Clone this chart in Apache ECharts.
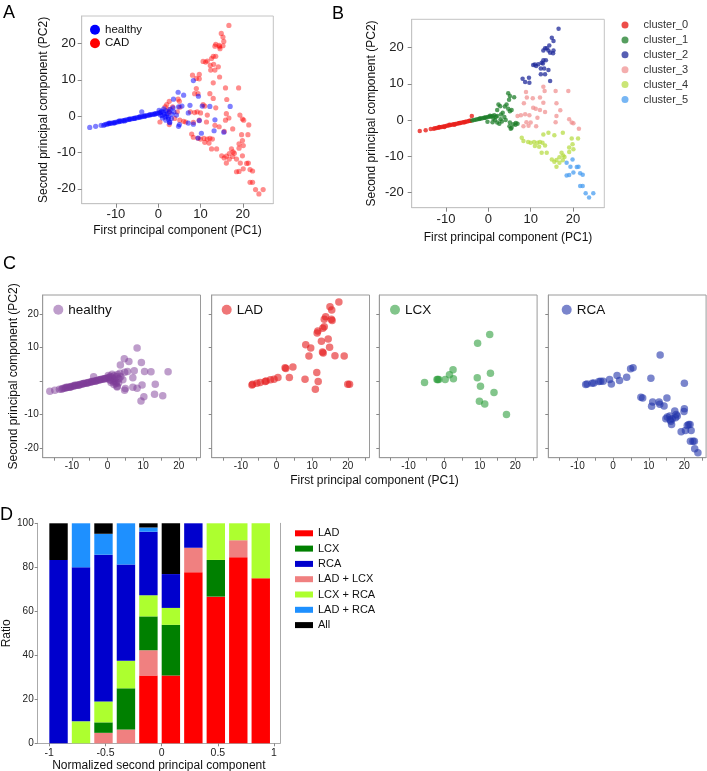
<!DOCTYPE html>
<html><head><meta charset="utf-8">
<script src="https://cdn.jsdelivr.net/npm/echarts@6/dist/echarts.min.js"></script>
<style>html,body{margin:0;padding:0;background:#fff}#c{width:707px;height:771px}</style>
</head><body><div id="c"></div>
<script>
// ---------- Panel A / C : healthy subjects (PC1, PC2) ----------
const healthy = [
[-16.2,-3.1],[-14.8,-2.8],[-13.5,-2.5],[-12.6,-2.3],[-12.2,-2.2],[-11.8,-2.1],[-11.4,-2.0],[-11.0,-1.9],[-10.6,-1.8],[-10.2,-1.7],[-9.8,-1.6],[-9.4,-1.5],[-9.0,-1.4],[-8.6,-1.3],[-8.2,-1.2],[-7.8,-1.1],[-7.4,-1.0],[-7.0,-0.9],[-6.6,-0.8],[-6.2,-0.7],[-5.8,-0.6],[-5.4,-0.5],[-5.0,-0.4],[-4.6,-0.3],[-4.2,-0.2],[-3.8,-0.1],[-3.4,0.0],[-3.0,0.1],[-2.6,0.2],[-2.2,0.3],[-1.8,0.4],[-1.4,0.5],[-1.0,0.6],[-0.6,0.7],[-0.2,0.8],[0.2,0.9],[0.5,1.0],
[-12.9,-2.5],[-11.6,-1.9],[-10.4,-1.9],[-9.2,-1.3],[-8.0,-1.3],[-6.8,-0.8],[-5.6,-0.6],[-4.4,-0.2],[-3.2,0.0],[-2.0,0.4],[-0.8,0.6],[-3.9,1.2],
[0.8,1.4],[1.2,1.1],[1.5,0.6],[1.8,1.5],[2.1,0.7],[2.4,-0.3],[1.6,-0.2],[0.9,0.2],[2.8,1.9],[3.5,2.3],[3.7,1.2],[3.1,-0.6],[2.4,-0.8],[1.8,-1.1],[4.3,0.3],[2.0,0.1],[1.0,-0.5],[2.6,1.3],[0.5,0.3],[3.2,0.6],[2.7,-1.8],[1.3,2.0],[0.2,1.6],
[8.3,9.8],[4.7,6.6],[6.0,5.8],[3.6,4.7],[9.5,5.5],[7.5,3.0],[10.4,2.8],[12.2,2.7],[17.0,2.7],[5.6,2.8],[4.8,2.6],[7.1,0.9],[9.7,-1.2],[7.1,-1.9],[8.3,-2.2],[13.4,-1.0],[5.0,-2.3],[4.8,-2.8],[10.2,-4.7],[9.4,-6.0],[13.2,-4.0],[15.5,-4.4],[2.7,-1.6]
];
// ---------- Panel A : CAD patients ----------
const cad = [
[16.7,25.0],[14.9,22.8],[15.3,21.8],[15.5,20.6],[14.4,19.5],[13.6,19.8],[13.4,19.3],[14.5,19.1],[15.3,19.4],[14.6,18.6],[13.0,16.5],[13.6,16.5],[12.6,15.9],[11.6,15.2],[10.6,15.1],[11.2,14.9],[12.3,14.0],[13.1,14.3],[14.2,13.6],[12.4,12.7],[13.4,12.7],[14.5,10.8],[8.1,11.3],[9.7,11.5],[9.0,10.4],[9.7,10.3],
[13.0,9.2],[15.9,7.8],[19.0,7.8],[12.2,6.2],[9.0,7.6],[9.4,6.2],[8.6,6.2],[13.0,4.9],[16.2,4.6],[13.6,2.3],[10.6,3.2],[11.0,2.8],[10.0,0.9],[9.2,1.2],[8.6,1.0],[7.6,1.2],[11.6,0.3],[9.7,-1.1],[11.4,-1.6],[8.3,-1.7],[16.1,0.7],[15.9,-1.1],[16.7,-0.5],[19.3,0.3],[19.9,-0.8],[20.2,-1.1],[21.4,-2.4],[13.4,-2.5],
[6.5,-1.6],[5.1,-1.1],[4.5,1.2],[5.0,4.1],[4.7,4.7],[2.6,4.1],[2.0,3.2],[3.4,2.6],[2.4,1.9],[1.6,2.6],[5.1,2.5],[2.6,1.0],[3.9,-0.6],[2.6,-2.3],[0.4,-1.6],[6.0,-1.4],
[7.9,-4.9],[8.3,-5.8],[9.4,-6.1],[10.0,-6.3],[10.8,-6.1],[11.6,-6.3],[12.2,-6.1],[12.8,-6.3],[11.0,-7.2],[12.0,-7.4],[12.6,-9.0],[13.8,-9.0],[14.4,-2.9],[15.6,-4.2],[17.6,-3.5],[19.7,-5.1],[21.2,-5.1],[19.9,-6.7],[19.1,-7.6],[20.1,-8.1],[19.1,-8.8],[17.3,-9.0],[17.7,-9.8],[16.8,-10.3],[16.1,-11.0],[15.0,-10.9],[15.6,-11.5],[16.8,-11.8],[17.6,-11.1],[16.1,-12.9],[18.0,-10.2],[19.9,-10.9],[18.5,-11.8],[18.5,-15.3],[19.1,-15.2],[20.1,-14.5],[20.9,-13.0],[21.3,-12.9],[19.4,-12.9],[21.7,-14.7],[22.3,-15.1],[21.7,-18.2],[22.3,-18.2],[23.0,-20.2],[23.8,-21.4],[24.8,-20.2]
];
// ---------- Panel B : clusters ----------
const cluster0 = [[-16.2,-3.0],[-14.8,-2.8],[-13.6,-2.5],[-12.6,-2.3],[-12.2,-2.2],[-11.8,-2.1],[-11.4,-2.0],[-11.0,-1.9],[-10.6,-1.8],[-10.2,-1.7],[-9.8,-1.6],[-9.4,-1.5],[-9.0,-1.4],[-8.6,-1.3],[-8.2,-1.2],[-7.8,-1.1],[-7.4,-1.0],[-7.0,-0.9],[-6.6,-0.8],[-6.2,-0.7],[-5.8,-0.6],[-5.4,-0.5],[-5.0,-0.4],[-4.6,-0.3],[-4.2,-0.2],[-3.9,1.1],[-12.9,-2.4],[-11.6,-1.9],[-10.4,-1.9],[-9.2,-1.3],[-8.0,-1.3],[-6.8,-0.8],[-5.6,-0.6],[-4.4,-0.2]];
const cluster1 = [[-3.8,-0.1],[-3.4,0.0],[-3.0,0.1],[-2.6,0.2],[-2.2,0.3],[-1.8,0.4],[-1.4,0.5],[-1.0,0.6],[-0.6,0.7],[-0.2,0.8],[0.2,0.9],[0.6,1.0],[1.0,1.1],[1.4,1.3],[1.2,0.4],[1.8,0.9],[2.1,1.1],[2.1,-0.7],[1.0,-0.6],[-0.2,-0.5],[2.9,0.2],[3.4,2.0],[3.0,1.5],[2.1,2.8],[3.9,3.7],[4.3,4.3],[2.4,4.3],[2.8,3.8],[4.7,3.1],[5.1,2.4],[5.5,2.8],[3.8,0.8],[4.1,0.0],[1.6,0.0],[4.7,7.4],[5.1,6.6],[6.1,6.3],[4.9,5.6],[5.1,-0.7],[5.9,-1.2],[6.4,-1.3],[6.9,-1.0],[5.0,-1.7],[5.5,-2.1],[5.3,-2.4],[6.5,-0.8],[3.2,-0.4],[2.6,-1.0],[-2.0,0.4],[-0.8,0.6],[0.4,1.2]];
const cluster2 = [[16.6,25.2],[15.0,22.7],[15.4,21.8],[14.4,20.6],[13.4,19.8],[13.8,19.8],[13.0,19.2],[14.2,19.2],[15.4,19.2],[14.6,18.6],[15.3,18.4],[13.0,16.5],[13.6,16.5],[12.6,15.8],[11.8,15.4],[10.6,15.2],[11.3,14.9],[12.4,14.2],[13.2,14.2],[14.2,13.8],[12.4,12.6],[13.4,12.6],[14.6,10.8],[8.1,11.4],[9.6,11.7],[8.7,10.5],[9.7,10.3],[11.0,15.3],[12.9,15.6]];
const cluster3 = [[8.9,7.7],[13.0,9.2],[15.9,8.0],[18.9,8.0],[12.2,6.2],[9.1,6.2],[10.5,6.0],[8.4,4.6],[13.0,4.8],[10.6,3.4],[11.2,3.1],[13.4,2.2],[8.7,1.6],[9.7,1.3],[7.7,1.3],[11.6,0.6],[10.0,-0.7],[9.0,-0.6],[11.3,-1.7],[8.3,-1.7],[9.5,-1.6],[16.1,1.1],[15.9,-0.6],[19.1,0.2],[19.7,-0.7],[20.1,-0.9],[16.1,4.6],[6.9,1.1],[13.3,8.0],[21.4,-2.4],[12.2,2.8],[17.0,2.7]];
const cluster4 = [[7.9,-4.9],[8.3,-5.8],[9.4,-6.1],[10.0,-6.3],[10.8,-6.1],[11.6,-6.3],[12.2,-6.1],[12.8,-6.3],[11.0,-7.2],[12.0,-7.4],[12.6,-9.0],[13.8,-9.0],[13.0,-4.0],[14.2,-3.5],[15.6,-4.2],[17.6,-3.5],[19.7,-5.1],[21.2,-5.1],[19.9,-6.7],[19.1,-7.6],[20.1,-8.1],[19.1,-8.8],[17.3,-9.0],[17.7,-9.8],[16.8,-10.3],[16.1,-11.0],[15.0,-10.9],[15.6,-11.5],[16.8,-11.8],[17.6,-11.1],[16.1,-12.9],[13.4,-7.0],[18.0,-10.2]];
const cluster5 = [[19.9,-10.9],[18.5,-11.8],[18.5,-15.3],[19.1,-15.2],[20.1,-14.5],[20.9,-13.0],[21.3,-12.9],[19.4,-12.9],[21.7,-14.7],[22.3,-15.1],[21.7,-18.2],[22.3,-18.2],[23.0,-20.2],[23.8,-21.4],[24.8,-20.2]];
// ---------- Panel C : per vessel ----------
const lad = [[17.5,23.5],[15.0,22.1],[15.5,21.1],[13.8,19.1],[13.4,18.4],[15.4,18.4],[15.6,18.0],[11.6,14.9],[11.4,14.3],[13.0,15.7],[13.4,16.1],[14.5,12.5],[12.6,11.8],[8.2,10.8],[9.6,9.8],[12.9,8.6],[13.1,8.3],[14.9,10.0],[16.4,7.5],[19.0,7.4],[9.1,7.4],[2.4,3.9],[2.6,3.7],[4.6,4.1],[3.6,1.0],[8.0,0.5],[11.3,2.5],[11.7,-0.2],[10.9,-2.5],[20.0,-1.0],[20.5,-1.0],[-6.9,-1.2],[-6.7,-1.0],[-5.5,-0.7],[-4.6,-0.5],[-3.2,-0.2],[-2.9,0.0],[-1.7,0.3],[-0.7,0.5],[0.4,1.0]];
const lcx = [[12.8,13.8],[9.4,11.2],[2.5,3.3],[1.5,1.8],[2.6,0.6],[0.3,0.4],[-1.5,0.4],[-2.0,0.4],[-1.8,0.4],[-5.5,-0.5],[9.3,0.9],[13.0,2.3],[10.2,-1.6],[14.0,-3.5],[9.9,-6.1],[11.4,-6.9],[17.5,-10.0]];
const rca = [[-7.7,-1.1],[-7.3,-0.9],[-5.9,-0.7],[-5.4,-0.6],[-4.0,-0.2],[-3.5,-0.1],[-2.8,-0.1],[-1.0,0.4],[-0.5,-0.9],[1.1,1.6],[1.8,0.1],[3.8,1.1],[4.9,3.6],[5.6,3.9],[10.6,0.8],[13.2,7.7],[20.0,-0.7],[7.8,-4.9],[8.3,-5.1],[11.1,-6.3],[10.8,-7.6],[12.9,-6.3],[13.1,-7.0],[14.3,-7.5],[15.1,-5.1],[14.8,-11.3],[15.2,-10.8],[15.9,-10.5],[16.6,-11.3],[17.3,-9.0],[17.7,-10.0],[17.5,-11.0],[16.4,-13.0],[18.0,-10.5],[19.9,-9.1],[20.0,-8.3],[19.1,-15.2],[20.3,-14.8],[20.8,-13.3],[21.2,-13.0],[21.6,-13.0],[21.9,-14.8],[21.7,-18.0],[22.4,-18.0],[22.8,-18.0],[22.9,-20.2],[23.8,-21.4],[16.0,-11.6],[16.2,-12.0]];
// ---------- Panel D : ratio per bin of normalized PC2 ----------
const binStarts = ['-1','-0.8','-0.6','-0.4','-0.2','0','0.2','0.4','0.6','0.8'];
const ratioLAD    = [0,0,0,0,30.77,30.77,77.78,66.67,84.62,75];
const ratioLADLCX = [0,0,4.76,6.25,11.54,0,11.11,0,7.69,0];
const ratioLCX    = [0,0,4.76,18.75,15.38,23.08,0,16.67,0,0];
const ratioLCXRCA = [0,10,9.52,12.5,9.62,7.69,0,16.67,7.69,25];
const ratioRCA    = [83.33,70,66.67,43.75,28.85,15.38,11.11,0,0,0];
const ratioLADRCA = [0,20,9.52,18.75,1.92,0,0,0,0,0];
const ratioAll    = [16.67,0,4.76,0,1.92,23.08,0,0,0,0];
const dLegendOrder = ['LAD','LCX','RCA','LAD + LCX','LCX + RCA','LAD + RCA','All'];
// tick labels
const pcTicksA = [-20,-10,0,10,20];
const pcTicksAx = [-10,0,10,20];
const cTicksX = [-15,-10,-5,0,5,10,15,20,25];
const cLabelsX = [-10,0,10,20];
const cTicksY = [-20,-10,0,10,20];
const cLabelsY = [-20,-10,10,20];
const dTicksX = [-1,-0.5,0,0.5,1];
const dTicksY = [0,20,40,60,80,100];

const FONT = '"Liberation Sans", Arial, sans-serif';
const chart = echarts.init(document.getElementById('c'), null, {renderer:'canvas'});

function axis(o){
  return {
    type:'value', gridIndex:o.g, min:o.min, max:o.max, position:o.pos,
    axisLine:{show:true, onZero:false, lineStyle:{color:o.lc||'#c4c4c4'}},
    axisTick:{show:true, customValues:o.ticks, length:o.tl||4, lineStyle:{color:'#888'}},
    axisLabel:{show:o.labels!==null, customValues:o.labels||undefined, fontSize:o.fs, color:'#222', margin:o.m, fontFamily:FONT},
    splitLine:{show:false},
    name:o.name||'', nameLocation:'middle', nameGap:o.ng||0,
    nameTextStyle:{fontSize:12, color:'#111', fontFamily:FONT}
  };
}

const cGrids = [42.7,211.7,379.3,548.3];
const grids = [
  {left:81.7, top:16, width:191.6, height:187.7, show:true, borderColor:'#c4c4c4', outerBoundsMode:'none'},
  {left:411.7, top:19.3, width:192.6, height:188.4, show:true, borderColor:'#c4c4c4', outerBoundsMode:'none'},
  ...cGrids.map(l=>({left:l, top:295, width:157.8, height:162.7, show:true, borderColor:'#9a9a9a', outerBoundsMode:'none'})),
  {left:37.7, top:523.3, width:242.3, height:220, outerBoundsMode:'none'},
  // band grid for the bars of panel D (10 bins of 0.2 between -1 and 1)
  {left:47.3, top:523.3, width:224.7, height:220, outerBoundsMode:'none'}
];

const xAxes = [
  axis({g:0,min:-18.1,max:27.2,ticks:pcTicksAx,labels:pcTicksAx,fs:13,m:4,name:'First principal component (PC1)',ng:21}),
  axis({g:1,min:-18.1,max:27.4,ticks:pcTicksAx,labels:pcTicksAx,fs:13,m:5,name:'First principal component (PC1)',ng:24}),
  ...[2,3,4,5].map(g=>axis({g,min:-18.2,max:26.1,ticks:cTicksX,labels:cLabelsX,fs:10,m:4,tl:3,lc:'#9a9a9a'})),
  axis({g:6,min:-1.103,max:1.053,ticks:dTicksX,labels:dTicksX,fs:10.5,m:4,tl:3,lc:'#aaa',name:'Normalized second principal component',ng:11}),
  {type:'category', gridIndex:7, data:binStarts, show:false}
];
const yAxes = [
  axis({g:0,min:-24.1,max:27.6,ticks:pcTicksA,labels:pcTicksA,fs:13,m:6,name:'Second principal component (PC2)',ng:32}),
  axis({g:1,min:-24.2,max:27.8,ticks:pcTicksA,labels:pcTicksA,fs:13,m:8,name:'Second principal component (PC2)',ng:34}),
  axis({g:2,min:-22.9,max:25.6,ticks:cTicksY,labels:cLabelsY,fs:10,m:4,tl:3,lc:'#9a9a9a',name:'Second principal component (PC2)',ng:23}),
  ...[3,4,5].map(g=>axis({g,min:-22.9,max:25.6,ticks:cTicksY,labels:null,fs:10,m:4,tl:3,lc:'#9a9a9a'})),
  axis({g:6,min:0,max:100,ticks:dTicksY,labels:dTicksY,fs:10,m:4,tl:3,lc:'#aaa',name:'Ratio',ng:17}),
  {type:'value', gridIndex:6, min:0, max:100, position:'right', axisLine:{show:true,onZero:false,lineStyle:{color:'#aaa'}}, axisTick:{show:false}, axisLabel:{show:false}, splitLine:{show:false}},
  {type:'value', gridIndex:7, min:0, max:100, show:false, splitLine:{show:false}}
];

function sc(name, data, xi, color, size, op){
  return {type:'scatter', name, data, xAxisIndex:xi, yAxisIndex:xi, symbol:'circle', symbolSize:size,
          itemStyle:{color, opacity:op}, emphasis:{disabled:true}, silent:true};
}
const series = [
  sc('CAD', cad, 0, '#ff0000', 5.2, 0.45),
  sc('healthy', healthy, 0, '#0000ff', 5.2, 0.5),
  sc('cluster_0', cluster0, 1, '#e8201c', 4.5, 0.8),
  sc('cluster_1', cluster1, 1, '#1e7d2a', 4.5, 0.75),
  sc('cluster_2', cluster2, 1, '#1f2a9a', 4.5, 0.75),
  sc('cluster_3', cluster3, 1, '#f08c8c', 4.5, 0.7),
  sc('cluster_4', cluster4, 1, '#b4da3c', 4.5, 0.7),
  sc('cluster_5', cluster5, 1, '#4a9ef0', 4.5, 0.75),
  sc('C:healthy', healthy, 2, '#7d3c98', 7.5, 0.5),
  sc('C:LAD', lad, 3, '#e41a1c', 7.5, 0.6),
  sc('C:LCX', lcx, 4, '#2e9e3e', 7.5, 0.6),
  sc('C:RCA', rca, 5, '#2233aa', 7.5, 0.6)
];
const dSeries = [
  ['LAD', ratioLAD, '#ff0000'],
  ['LAD + LCX', ratioLADLCX, '#f08080'],
  ['LCX', ratioLCX, '#008000'],
  ['LCX + RCA', ratioLCXRCA, '#adff2f'],
  ['RCA', ratioRCA, '#0000cd'],
  ['LAD + RCA', ratioLADRCA, '#1e90ff'],
  ['All', ratioAll, '#000000']
];
dSeries.forEach(([name, vals, color])=>{
  series.push({type:'bar', name, stack:'d', xAxisIndex:7, yAxisIndex:8, barWidth:18.4,
    data: vals, itemStyle:{color}, silent:true});
});

const strip = n => n.replace(/^C:/,'');
const legends = [
  {data:['healthy','CAD'], left:90, top:23.8, orient:'vertical', icon:'circle', itemWidth:10, itemHeight:10, itemGap:1.4, padding:0,
   itemStyle:{opacity:1}, textStyle:{fontSize:11.5, lineHeight:11, color:'#111', fontFamily:FONT}},
  {data:['cluster_0','cluster_1','cluster_2','cluster_3','cluster_4','cluster_5'], left:621.5, top:18.5, orient:'vertical', icon:'circle',
   itemWidth:7, itemHeight:7, itemGap:1.9, padding:0, textStyle:{fontSize:11, lineHeight:13, color:'#333', fontFamily:FONT, padding:[0,0,0,10]}},
  ...[['C:healthy',53.3],['C:LAD',221.7],['C:LCX',390],['C:RCA',561.7]].map(([n,l])=>({
    data:[n], left:l, top:302.8, icon:'circle', itemWidth:10, itemHeight:10, padding:0, formatter:strip,
    textStyle:{fontSize:13.5, lineHeight:13, color:'#111', fontFamily:FONT}})),
  {data:dLegendOrder, left:295, top:526.8, orient:'vertical', icon:'rect', itemWidth:18, itemHeight:6, itemGap:2.3, padding:0,
   textStyle:{fontSize:11, lineHeight:13, color:'#111', fontFamily:FONT}}
];

function letter(t,x,y){ return {type:'text', x, y, style:{text:t, fill:'#000', font:'18px '+FONT, align:'left', verticalAlign:'top'}}; }
const graphic = [
  letter('A',3,4), letter('B',332,5), letter('C',3,255), letter('D',0,506),
  {type:'text', x:374.5, y:481, style:{text:'First principal component (PC1)', fill:'#111', font:'12px '+FONT, align:'center', verticalAlign:'middle'}}
];

chart.setOption({
  animation:false,
  textStyle:{fontFamily:FONT},
  grid:grids, xAxis:xAxes, yAxis:yAxes, series, legend:legends, graphic
});
</script></body></html>
